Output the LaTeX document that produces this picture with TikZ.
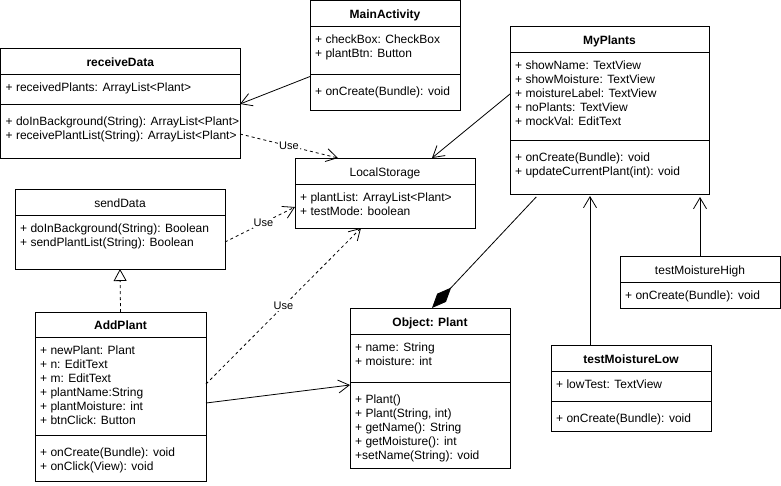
\documentclass[tikz,border=0pt]{standalone}
\usepackage{fontspec}
\setmainfont{Liberation Sans}
\usetikzlibrary{arrows.meta}

\begin{document}
\begin{tikzpicture}[x=1pt, y=-1pt,
    classbox/.style={draw, line width=0.8pt, inner sep=0pt, outer sep=0pt},
    classname/.style={anchor=base, inner sep=0pt, font=\fontsize{12}{14}\selectfont\bfseries},
    ifacename/.style={anchor=base, inner sep=0pt, font=\fontsize{12}{14}\selectfont},
    members/.style={anchor=base west, align=left, inner sep=0pt, font=\fontsize{12}{14}\selectfont},
    sepline/.style={line width=0.8pt},
    assoc/.style={line width=0.8pt, -{Straight Barb[length=11pt,width=13pt]}},
    uses/.style={assoc, dashed},
    realize/.style={line width=0.8pt, dashed, -{Triangle[open,length=12pt,width=13pt]}},
    compose/.style={line width=0.8pt, -{Diamond[length=28pt,width=12pt]}},
    uselabel/.style={fill=white, inner sep=1pt, font=\fontsize{11}{14}\selectfont}]
    \fill[white] (0,0) rectangle (781,485);
    \useasboundingbox (0,0) rectangle (781,485);

    % MainActivity
    \node[classbox, minimum width=150pt, minimum height=109.5pt] (mainact) at (385,55.25) {};
    \node[classname] (mainactname) at (385,18) {MainActivity};
    \draw[sepline] (310,26) -- (460,26);
    \draw[sepline] (310,74) -- (460,74);
    \node[members] (mainactattr) at (315,57) {+ checkBox: CheckBox\\+ plantBtn: Button};
    \node[members] (mainactops) at (315,95.5) {+ onCreate(Bundle): void};

    % receiveData
    \node[classbox, minimum width=239.5pt, minimum height=110pt] (recv) at (120.25,103) {};
    \node[classname] (recvname) at (120.25,66) {receiveData};
    \draw[sepline] (0.5,74) -- (240,74);
    \draw[sepline] (0.5,104) -- (240,104);
    \node[members] (recvattr) at (5.5,91) {+ receivedPlants: ArrayList<Plant>};
    \node[members] (recvops) at (5.5,139.5) {+ doInBackground(String): ArrayList<Plant>\\+ receivePlantList(String): ArrayList<Plant>};

    % LocalStorage
    \node[classbox, minimum width=180pt, minimum height=70pt] (local) at (385,193) {};
    \node[ifacename] (localname) at (385,176) {LocalStorage};
    \draw[sepline] (295,184) -- (475,184);
    \node[members] (localattr) at (300,215) {+ plantList: ArrayList<Plant>\\+ testMode: boolean};

    % sendData
    \node[classbox, minimum width=210pt, minimum height=80pt] (send) at (120,229) {};
    \node[ifacename] (sendname) at (120,207) {sendData};
    \draw[sepline] (15,215) -- (225,215);
    \node[members] (sendops) at (20,246) {+ doInBackground(String): Boolean\\+ sendPlantList(String): Boolean};

    % MyPlants
    \node[classbox, minimum width=199pt, minimum height=168pt] (myplants) at (609.5,110) {};
    \node[classname] (myplantsname) at (609.5,44) {MyPlants};
    \draw[sepline] (510,52) -- (709,52);
    \draw[sepline] (510,140) -- (709,140);
    \node[members] (myplantsattr) at (515,125) {+ showName: TextView\\+ showMoisture: TextView\\+ moistureLabel: TextView\\+ noPlants: TextView\\+ mockVal: EditText};
    \node[members] (myplantsops) at (515,175.5) {+ onCreate(Bundle): void\\+ updateCurrentPlant(int): void};

    % testMoistureHigh
    \node[classbox, minimum width=160pt, minimum height=52pt] (high) at (700,282) {};
    \node[ifacename] (highname) at (700,274) {testMoistureHigh};
    \draw[sepline] (620,282) -- (780,282);
    \node[members] (highops) at (625,299) {+ onCreate(Bundle): void};

    % AddPlant
    \node[classbox, minimum width=171pt, minimum height=169pt] (addplant) at (120.5,396.5) {};
    \node[classname] (addplantname) at (120.5,329.5) {AddPlant};
    \draw[sepline] (35,337) -- (206,337);
    \draw[sepline] (35,435) -- (206,435);
    \node[members] (addplantattr) at (40,424) {+ newPlant: Plant\\+ n: EditText\\+ m: EditText\\+ plantName:String\\+ plantMoisture: int\\+ btnClick: Button};
    \node[members] (addplantops) at (40,470.5) {+ onCreate(Bundle): void\\+ onClick(View): void};

    % Object: Plant
    \node[classbox, minimum width=160pt, minimum height=160pt] (plant) at (430,388) {};
    \node[classname] (plantname) at (430,326) {Object: Plant};
    \draw[sepline] (350,334) -- (510,334);
    \draw[sepline] (350,382) -- (510,382);
    \node[members] (plantattr) at (355,365) {+ name: String\\+ moisture: int};
    \node[members] (plantops) at (355,459.5) {+ Plant()\\+ Plant(String, int)\\+ getName(): String\\+ getMoisture(): int\\+setName(String): void};

    % testMoistureLow
    \node[classbox, minimum width=160pt, minimum height=86pt] (low) at (631,388) {};
    \node[classname] (lowname) at (631,363) {testMoistureLow};
    \draw[sepline] (551,371) -- (711,371);
    \draw[sepline] (551,401) -- (711,401);
    \node[members] (lowattr) at (556,388) {+ lowTest: TextView};
    \node[members] (lowops) at (556,422.5) {+ onCreate(Bundle): void};

    % connectors
    \draw[assoc] ([yshift=-76pt]mainact.north west) -- ([yshift=-56pt]recv.north east);
    \draw[uses] ([yshift=-86pt]recv.north east) -- node[uselabel] (use1) {Use} ([xshift=43pt]local.north west);
    \draw[uses] ([yshift=-53pt]send.north east) -- node[uselabel, pos=0.55] (use2) {Use} ([yshift=-49pt]local.north west);
    \draw[uses] ([yshift=-72pt]addplant.north east) -- node[uselabel] (use3) {Use} ([xshift=66pt]local.south west);
    \draw[assoc] ([yshift=-68pt]myplants.north west) -- ([xshift=137pt]local.north west);
    \draw[realize] (addplant.north) -- (send.south);
    \draw[assoc] ([yshift=-91pt]addplant.north east) -- ([yshift=-77pt]plant.north west);
    \draw[compose, shorten <=4pt] ([xshift=29pt]myplants.south west) -- ([xshift=2pt]plant.north);
    \draw[assoc, shorten >=2pt] ([xshift=39pt]low.north west) -- ([xshift=80pt]myplants.south west);
    \draw[assoc, shorten >=3pt] (high.north) -- ([xshift=-9pt]myplants.south east);
\end{tikzpicture}
\end{document}
